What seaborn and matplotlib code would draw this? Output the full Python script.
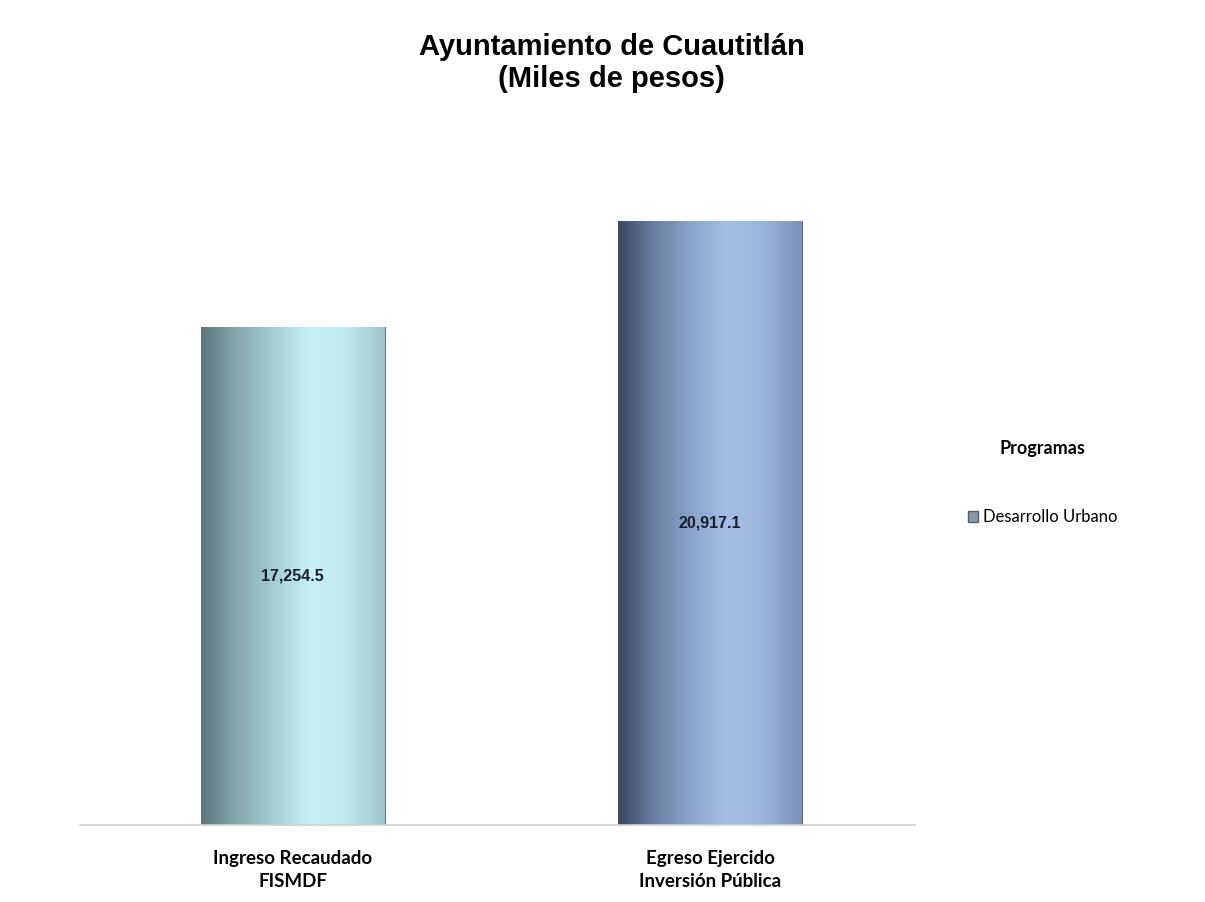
import numpy as np
import pandas as pd
import seaborn as sns
import matplotlib.pyplot as plt
from matplotlib.patches import Patch
from matplotlib.colors import LinearSegmentedColormap

categorias = ['Ingreso Recaudado\nFISMDF', 'Egreso Ejercido\nInversión Pública']
valores = [17254.5, 20917.1]
etiquetas = ['17,254.5', '20,917.1']
programa = 'Desarrollo Urbano'

# shading of each cylinder, left to right
sombras = [
	['#5b767c', '#86a8ae', '#a6cdd5', '#c9f1f8', '#bfe7ee', '#a0c3ca'],
	['#3c4a60', '#6a7fa2', '#8ba4cd', '#a6bfe6', '#9ab3dc', '#7a90ba'],
]


def pintar_cilindro(ax, bar, colores):
	"""Fills a bar with a horizontal gradient clipped to it."""
	x0, y0 = bar.get_x(), bar.get_y()
	w, h = bar.get_width(), bar.get_height()
	cmap = LinearSegmentedColormap.from_list('cil', colores)
	grad = np.linspace(0, 1, 256).reshape(1, -1)
	img = ax.imshow(grad, cmap=cmap, aspect='auto', extent=(x0, x0 + w, y0, y0 + h),
		zorder=bar.get_zorder() + 0.1, interpolation='bicubic')
	img.set_clip_path(bar)
	bar.set_edgecolor('#4a5560')
	bar.set_linewidth(0.6)


def main():
	df = pd.DataFrame({'categoria': categorias, 'valor': valores})

	fig = plt.figure(figsize=(12.05, 9.02), dpi=100)
	ax = fig.add_axes([0.0664, 0.0854, 0.6926, 0.7361])

	sns.barplot(data=df, x='categoria', y='valor', hue='categoria',
		palette=[s[3] for s in sombras], width=0.44, legend=False, ax=ax)

	for bar, colores in zip(ax.patches, sombras):
		pintar_cilindro(ax, bar, colores)

	for i, (v, t) in enumerate(zip(valores, etiquetas)):
		ax.text(i, v / 2, t, ha='center', va='center', fontsize=11.5, fontweight='bold',
			family='Liberation Sans', color='#1a1f2a', zorder=5)

	ax.set_xlim(-0.51, 1.49)
	ax.set_ylim(0, 23000)
	ax.set_xlabel('')
	ax.set_ylabel('')
	ax.set_yticks([])
	ax.tick_params(axis='x', length=0, pad=18)
	for lab in ax.get_xticklabels():
		lab.set_fontfamily('Lato')
		lab.set_fontweight('bold')
		lab.set_fontsize(13.5)
		lab.set_linespacing(1.45)
	for s in ['top', 'right', 'left']:
		ax.spines[s].set_visible(False)
	ax.spines['bottom'].set_color('#d0d0d0')
	ax.spines['bottom'].set_linewidth(1.2)

	fig.text(0.5075, 0.93, 'Ayuntamiento de Cuautitlán\n(Miles de pesos)', ha='center', va='center',
		fontsize=21, fontweight='bold', family='Liberation Sans', linespacing=1.2)

	leg = fig.legend(handles=[Patch(facecolor='#8a98ad', edgecolor='#555f6e', label=programa)],
		title='Programas', loc='center', bbox_to_anchor=(0.865, 0.465), frameon=False,
		handlelength=0.6, handleheight=0.6, handletextpad=0.3, labelspacing=0.5,
		prop={'family': 'Lato', 'size': 12})
	leg.get_title().set_fontfamily('Lato')
	leg.get_title().set_fontweight('bold')
	leg.get_title().set_fontsize(13)
	leg._legend_box.sep = 38

	fig.savefig('out.png', dpi=100)


if __name__ == "__main__":
	main()
